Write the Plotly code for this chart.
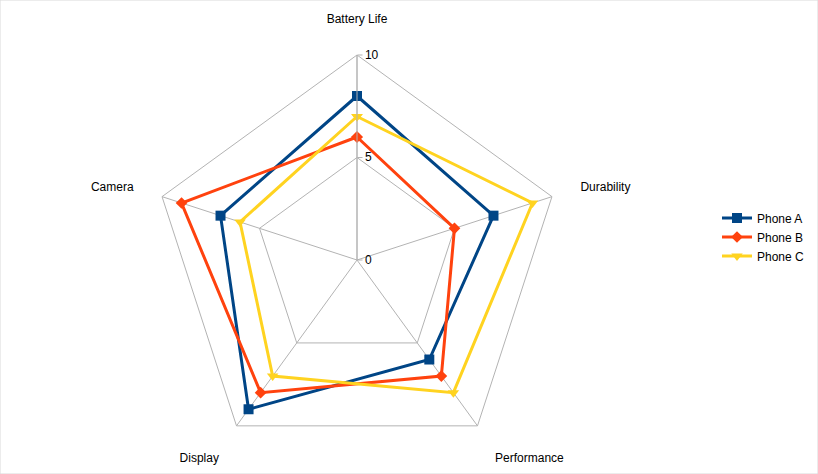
import plotly.graph_objects as go

categories = ["Battery Life", "Durability", "Performance", "Display", "Camera"]
phone_a = [8, 7, 6, 9, 7]
phone_b = [6, 5, 7, 8, 9]
phone_c = [7, 9, 8, 7, 6]
series_names = ["Phone A", "Phone B", "Phone C"]
colors = ["#004586", "#ff420e", "#ffd320"]
symbols = ["square", "diamond", "triangle-down"]
radial_ticks = [0, 5, 10]

W, H = 818, 474
cx, cy, R = 357, 260, 205

fig = go.Figure()
for name, vals, col, sym in zip(series_names, [phone_a, phone_b, phone_c], colors, symbols):
    fig.add_trace(go.Scatterpolar(
        r=vals + vals[:1],
        theta=categories + categories[:1],
        name=name,
        mode="lines+markers",
        line=dict(color=col, width=3),
        marker=dict(symbol=sym, size=10 if sym != "diamond" else 9, color=col),
    ))

fig.update_layout(
    width=W, height=H,
    margin=dict(l=0, r=0, t=0, b=0),
    paper_bgcolor="white",
    plot_bgcolor="white",
    font=dict(family="Liberation Sans, Arial, sans-serif", size=12, color="#000000"),
    polar=dict(
        domain=dict(x=[(cx - R) / W, (cx + R) / W], y=[1 - (cy + R) / H, 1 - (cy - R) / H]),
        bgcolor="white",
        gridshape="linear",
        radialaxis=dict(
            range=[0, 10], tickvals=radial_ticks, angle=90, tickangle=90,
            showline=True, linecolor="#b3b3b3", linewidth=1,
            gridcolor="#b3b3b3", gridwidth=1,
            ticks="outside", ticklen=5, tickcolor="#b3b3b3",
            tickfont=dict(size=12, color="#000000"), side="clockwise",
        ),
        angularaxis=dict(
            rotation=90, direction="clockwise",
            showline=True, linecolor="#b3b3b3", linewidth=1,
            gridcolor="#b3b3b3", gridwidth=1,
            ticks="outside", ticklen=27, tickcolor="rgba(0,0,0,0)",
            tickfont=dict(size=12, color="#000000"),
        ),
    ),
    legend=dict(
        x=717 / W, y=0.5, xanchor="left", yanchor="middle",
        font=dict(size=12), tracegroupgap=0, itemwidth=30,
        bgcolor="rgba(0,0,0,0)",
    ),
    shapes=[dict(type="rect", xref="paper", yref="paper", x0=0, y0=0, x1=1, y1=1,
                 line=dict(color="#d9d9d9", width=1))],
)

fig.write_html(
    "out.html",
    config={"displayModeBar": False},
    post_script="document.body.style.margin='0';document.body.style.overflow='hidden';",
)
